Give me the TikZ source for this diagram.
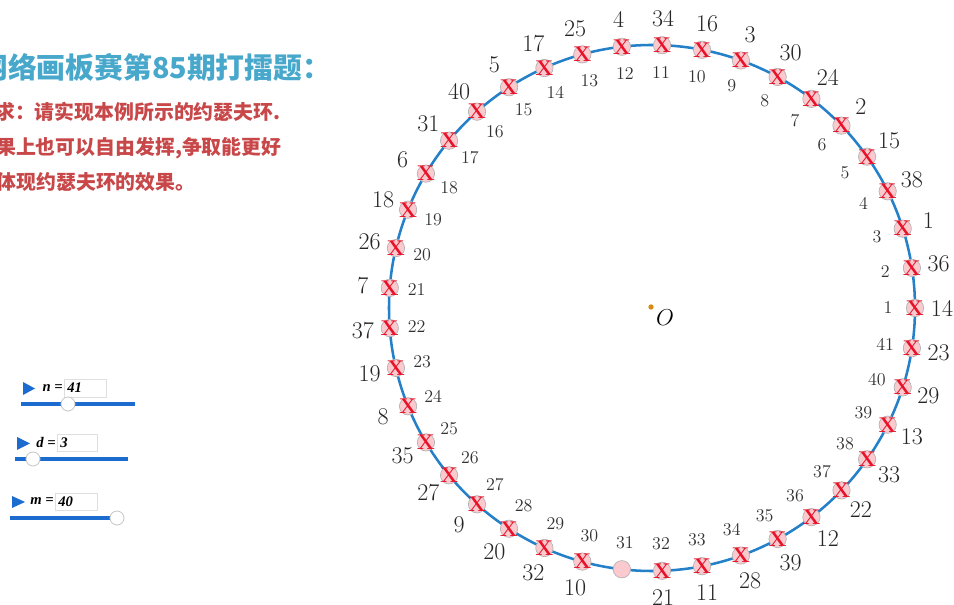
\documentclass[tikz,border=0pt]{standalone}
\usepackage{fontspec}
\usepackage{xcolor}
\usepackage{amsmath,amssymb}
\usepackage{tikz}
\newfontfamily\cjk{Noto Sans CJK SC}
\newfontfamily\timesfont{Liberation Serif}
\definecolor{ringblue}{RGB}{36,128,200}
\definecolor{ballpink}{RGB}{250,202,207}
\definecolor{crossred}{RGB}{232,18,40}
\definecolor{titleblue}{RGB}{72,168,204}
\definecolor{notered}{RGB}{200,72,74}
\definecolor{sliderblue}{RGB}{28,108,208}
\definecolor{dotorange}{RGB}{212,140,20}

\begin{document}
\begin{tikzpicture}[x=0.75pt,y=-0.75pt,
	ball/.style={circle,draw=gray!60,fill=ballpink,line width=0.5pt,minimum size=13pt,inner sep=0pt},
	cross/.style={text=crossred,font=\fontsize{16}{16}\selectfont\bfseries,inner sep=0pt},
	inlabel/.style={text=black!80,font=\fontsize{13.5}{14}\selectfont},
	outlabel/.style={text=black!85,font=\fontsize{18}{20}\selectfont},
	titletext/.style={anchor=base west,inner sep=0pt,text=titleblue,font=\cjk\bfseries\fontsize{21.6}{24}\selectfont},
	notetext/.style={anchor=base west,inner sep=0pt,text=notered,font=\cjk\bfseries\fontsize{14.9}{16}\selectfont},
	slidertext/.style={inner sep=0pt,font=\timesfont\bfseries\itshape\fontsize{11}{12}\selectfont},
	knob/.style={circle,draw=gray!45,fill=white,line width=0.6pt,minimum size=10.5pt,inner sep=0pt}]
	\useasboundingbox (0,0) rectangle (954,605);
	\fill[white] (0,0) rectangle (954,605);
	\clip (0,0) rectangle (954,605);
	% heading and task text
	\path (-21,78.6) node[titletext] (title) {网络画板赛第85期打擂题：};
	\path (-5,119.5) node[notetext] (req1) {求：请实现本例所示的约瑟夫环.};
	\path (-4,154.5) node[notetext] (req2) {果上也可以自由发挥,争取能更好};
	\path (-3.5,189.5) node[notetext] (req3) {体现约瑟夫环的效果。};
	% sliders
	\draw[sliderblue,line width=2.3pt] (21,404) -- (135,404);
	\fill[sliderblue] (23,382) -- (23,395) -- (35,388.5) -- cycle;
	\draw[gray!25,fill=white] (64,379) rectangle (106,397);
	\path (63,388) node[slidertext,anchor=east] (nlab) {n =};
	\path (67,388) node[slidertext,anchor=west] (nval) {41};
	\path (68,404) node[knob] (nknob) {};
	\draw[sliderblue,line width=2.3pt] (15,459) -- (128,459);
	\fill[sliderblue] (17,437) -- (17,450) -- (30,443.5) -- cycle;
	\draw[gray!25,fill=white] (57,434) rectangle (97,451);
	\path (56,442.5) node[slidertext,anchor=east] (dlab) {d =};
	\path (60,442.5) node[slidertext,anchor=west] (dval) {3};
	\path (33,459) node[knob] (dknob) {};
	\draw[sliderblue,line width=2.3pt] (10,518) -- (123,518);
	\fill[sliderblue] (12,496) -- (12,508) -- (25,502) -- cycle;
	\draw[gray!25,fill=white] (55,493) rectangle (97,510);
	\path (54,501.5) node[slidertext,anchor=east] (mlab) {m =};
	\path (58,501.5) node[slidertext,anchor=west] (mval) {40};
	\path (117,518) node[knob] (mknob) {};
	% the ring
	\begin{scope}[shift={(652,308)}]
		\draw[ringblue,line width=1.9pt] (0,0) circle[radius=263];
		\foreach \k/\ord in {1/14,2/36,3/1,4/38,5/15,6/2,7/24,8/30,9/3,10/16,11/34,12/4,13/25,14/17,15/5,16/40,17/31,18/6,19/18,20/26,21/7,22/37,23/19,24/8,25/35,26/27,27/9,28/20,29/32,30/10,32/21,33/11,34/28,35/39,36/12,37/22,38/33,39/13,40/29,41/23} {
			\pgfmathsetmacro\ang{-(\k-1)*360/41}
			\path (\ang:263) node[ball] (p\k) {};
			\path (\ang:263) node[cross] (x\k) {X};
			\path (\ang:236) node[inlabel] (in\k) {\k};
			\path (\ang:290) node[outlabel] (out\k) {\ord};
		}
		% the one left over
		\path (-30*360/41:263) node[ball] (p31) {};
		\path (-30*360/41:236) node[inlabel] (in31) {31};
	\end{scope}
	\path (651,307) node[circle,fill=dotorange,minimum size=4pt,inner sep=0pt] (O) {};
	\path (665,318) node[font=\fontsize{17}{18}\selectfont] (Olab) {$O$};
\end{tikzpicture}
\end{document}
